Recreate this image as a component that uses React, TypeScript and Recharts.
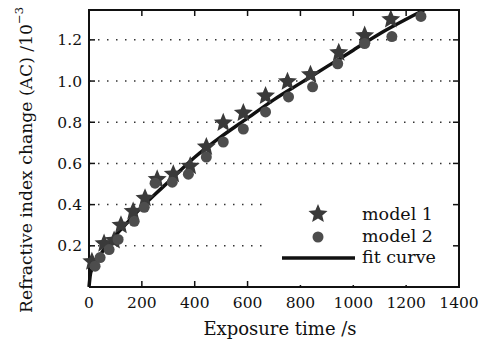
import React from 'react';
import { ComposedChart, Scatter, Line, XAxis, YAxis, CartesianGrid, Legend } from 'recharts';

const xTicks = [0, 200, 400, 600, 800, 1000, 1200, 1400];
const yTicks = [0.2, 0.4, 0.6, 0.8, 1.0, 1.2];
const xDomain: [number, number] = [0, 1400];
const yDomain: [number, number] = [0, 1.345];

const model1X = [11, 57, 95, 121, 167, 212, 258, 319, 383, 444, 508, 584, 668, 751, 838, 945, 1043, 1142];
const model1Y = [0.123, 0.211, 0.226, 0.3, 0.367, 0.431, 0.523, 0.548, 0.587, 0.68, 0.797, 0.845, 0.928, 0.997, 1.031, 1.138, 1.221, 1.299];

const model2X = [23, 42, 76, 110, 171, 209, 250, 315, 376, 444, 508, 584, 668, 755, 846, 941, 1043, 1146, 1256];
const model2Y = [0.101, 0.143, 0.182, 0.231, 0.319, 0.387, 0.504, 0.509, 0.548, 0.631, 0.704, 0.767, 0.85, 0.923, 0.972, 1.084, 1.182, 1.216, 1.314];

const fitX = [0, 5, 12, 25, 50, 100, 150, 200, 250, 300, 400, 500, 600, 700, 800, 900, 1000, 1100, 1200, 1268];
const fitY = [0.0, 0.06, 0.09, 0.12, 0.17, 0.25, 0.32, 0.39, 0.45, 0.51, 0.63, 0.73, 0.82, 0.91, 0.99, 1.07, 1.15, 1.23, 1.3, 1.345];

const model1 = model1X.map((x, i) => ({ x, y: model1Y[i] }));
const model2 = model2X.map((x, i) => ({ x, y: model2Y[i] }));
const fit = fitX.map((x, i) => ({ x, y: fitY[i] }));

// layout
const CHART_W = 490;
const CHART_H = 341;
const M = { top: 10, right: 31, bottom: 24, left: 0 };
const YAXIS_W = 89;
const XAXIS_H = 30;
const PLOT_L = M.left + YAXIS_W;
const PLOT_R = CHART_W - M.right;
const PLOT_T = M.top;
const PLOT_B = CHART_H - M.bottom - XAXIS_H;
const TICK_LEN = 6;

const FONT = 'DejaVu Serif';
const STAR_COLOR = '#3a3a3a';
const DOT_COLOR = '#4d4d4d';

function starPath(cx: number, cy: number, R: number, r: number) {
  let d = '';
  for (let i = 0; i < 10; i++) {
    const rad = i % 2 === 0 ? R : r;
    const a = -Math.PI / 2 + (i * Math.PI) / 5;
    d += (i === 0 ? 'M' : 'L') + (cx + rad * Math.cos(a)).toFixed(2) + ',' + (cy + rad * Math.sin(a)).toFixed(2);
  }
  return d + 'Z';
}

const StarShape = (props: any) => {
  const { cx, cy } = props;
  if (cx == null || cy == null) return null;
  return <path d={starPath(cx, cy, 10, 4.5)} fill={STAR_COLOR} />;
};

const DotShape = (props: any) => {
  const { cx, cy } = props;
  if (cx == null || cy == null) return null;
  return <circle cx={cx} cy={cy} r={5.5} fill={DOT_COLOR} />;
};

const LegendContent = () => (
  <div style={{ background: '#fff', width: 188, height: 92 }}>
    <svg width={188} height={92}>
      <path d={starPath(50, 21, 10, 4.5)} fill={STAR_COLOR} />
      <circle cx={50} cy={44} r={5.5} fill={DOT_COLOR} />
      <line x1={14} y1={65} x2={87} y2={65} stroke="#111" strokeWidth={3.5} />
      <text x={94} y={21} dominantBaseline="central" fontFamily={FONT} fontSize={17.5} fill="#111">model 1</text>
      <text x={94} y={43} dominantBaseline="central" fontFamily={FONT} fontSize={17.5} fill="#111">model 2</text>
      <text x={94} y={64} dominantBaseline="central" fontFamily={FONT} fontSize={17.5} fill="#111">fit curve</text>
    </svg>
  </div>
);

// top and right frame with inward ticks (mirrors the bottom/left axes), drawn as an overlay
const FrameOverlay = () => {
  const pw = PLOT_R - PLOT_L;
  const ph = PLOT_B - PLOT_T;
  const sx = (v: number) => PLOT_L + ((v - xDomain[0]) / (xDomain[1] - xDomain[0])) * pw;
  const sy = (v: number) => PLOT_B - ((v - yDomain[0]) / (yDomain[1] - yDomain[0])) * ph;
  return (
    <svg
      width={CHART_W}
      height={CHART_H}
      style={{ position: 'absolute', left: 0, top: 0, pointerEvents: 'none', overflow: 'visible' }}
    >
      <path
        d={`M${PLOT_L - 1},${PLOT_T}L${PLOT_R},${PLOT_T}L${PLOT_R},${PLOT_B + 1}`}
        fill="none"
        stroke="#111"
        strokeWidth={2}
      />
      {xTicks.map((t) => (
        <line key={'tx' + t} x1={sx(t)} y1={PLOT_T} x2={sx(t)} y2={PLOT_T + TICK_LEN} stroke="#111" strokeWidth={1.5} />
      ))}
      {yTicks.map((t) => (
        <line key={'ty' + t} x1={PLOT_R} y1={sy(t)} x2={PLOT_R - TICK_LEN} y2={sy(t)} stroke="#111" strokeWidth={1.5} />
      ))}
    </svg>
  );
};

const YLabel = () => (
  <text
    x={0}
    y={0}
    transform="translate(26,160) rotate(-90)"
    textAnchor="middle"
    dominantBaseline="central"
    fontFamily={FONT}
    fontSize={17.2}
    fill="#111"
  >
    Refractive index change (AC) /10
    <tspan fontSize={11.5} dy={-7}>−3</tspan>
  </text>
);

const XLabel = () => (
  <text x={280} y={328} textAnchor="middle" dominantBaseline="central" fontFamily={FONT} fontSize={18} fill="#111">
    Exposure time /s
  </text>
);

export default function App() {
  const tickStyle = { fontFamily: FONT, fontSize: 15.5, fill: '#111' };
  const axisLine = { stroke: '#111', strokeWidth: 2 };
  const tickLine = { stroke: '#111', strokeWidth: 1.5 };
  return (
    <div style={{ position: 'absolute', left: 0, top: 0, width: CHART_W, height: CHART_H }}>
      <ComposedChart width={CHART_W} height={CHART_H} margin={M}>
        <CartesianGrid vertical={false} stroke="#333" strokeDasharray="1.5 7.5" strokeWidth={1.5} />
        <XAxis
          type="number"
          dataKey="x"
          domain={xDomain}
          ticks={xTicks}
          height={XAXIS_H}
          axisLine={axisLine}
          tickLine={tickLine}
          tickSize={-TICK_LEN}
          tickMargin={16}
          tick={tickStyle}
          interval={0}
          label={{ content: XLabel }}
        />
        <YAxis
          type="number"
          dataKey="y"
          domain={yDomain}
          allowDataOverflow
          ticks={yTicks}
          width={YAXIS_W}
          axisLine={axisLine}
          tickLine={tickLine}
          tickSize={-TICK_LEN}
          tickMargin={13}
          tick={tickStyle}
          tickFormatter={(v: number) => v.toFixed(1)}
          interval={0}
          label={{ content: YLabel }}
        />
        <Scatter name="model 1" data={model1} dataKey="y" shape={StarShape} isAnimationActive={false} />
        <Scatter name="model 2" data={model2} dataKey="y" shape={DotShape} isAnimationActive={false} />
        <Line
          name="fit curve"
          data={fit}
          dataKey="y"
          type="monotone"
          stroke="#111"
          strokeWidth={3.5}
          dot={false}
          activeDot={false}
          isAnimationActive={false}
        />
        <Legend
          layout="vertical"
          align="center"
          verticalAlign="middle"
          content={LegendContent}
          wrapperStyle={{ position: 'absolute', left: 268, top: 193, width: 188, height: 92 }}
        />
      </ComposedChart>
      <FrameOverlay />
    </div>
  );
}
